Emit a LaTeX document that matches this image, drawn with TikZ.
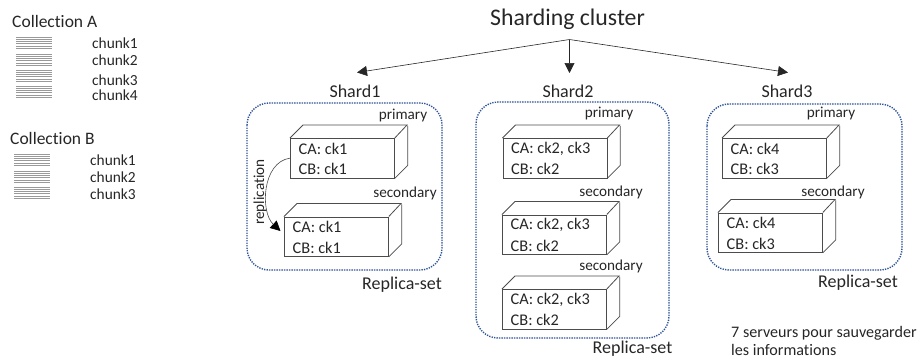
\documentclass[tikz,border=0pt]{standalone}
\usepackage{fontspec}
\setmainfont[Ligatures=NoCommon]{Carlito}
\usetikzlibrary{arrows.meta,calc}
\definecolor{dotblue}{HTML}{2F5597}
\definecolor{txt}{HTML}{262626}
\tikzset{
  x=1pt,y=-1pt,
  label text/.style={text=txt,inner sep=0pt,font=\fontsize{18}{20}\selectfont},
  coll text/.style={text=txt,inner sep=0pt,anchor=west,font=\fontsize{17.5}{20}\selectfont},
  small text/.style={text=txt,inner sep=0pt,font=\fontsize{15.2}{17}\selectfont},
  chunk text/.style={text=txt,inner sep=0pt,anchor=west,font=\fontsize{15.4}{17}\selectfont},
  front/.style={draw=black!70,line width=0.8pt,fill=white,minimum width=104pt,minimum height=39.5pt,inner sep=0pt},
  edge line/.style={draw=black!70,line width=0.8pt},
  replset/.style={draw=dotblue,line width=1.4pt,dash pattern=on 1.3pt off 1.2pt,rounded corners=22pt,inner sep=0pt},
  stripe/.style={draw=black!40,line width=0.6pt},
  link/.style={draw=black!85,line width=0.6pt,-{Stealth[length=10pt,width=10pt,inset=0pt]}},
}
\newcommand{\servbox}[6]{% name, x left, y top, line 1, line 2
  \node[front,anchor=north west] (#1) at (#2,#3) {};
  \draw[edge line] (#1.north west) -- ++(13,-13) -- ++(104,0) -- (#1.north east)
    (#1.south east) -- ++(13,-13) -- ++(0,-39.5);
  \node[small text,anchor=west] (#1a) at ($(#1.west)+(8.5,-9.3)$) {\fontsize{16.3}{18}\selectfont #4};
  \node[small text,anchor=west] (#1b) at ($(#1.west)+(8.5,11)$) {\fontsize{16.3}{18}\selectfont #5};
  \node[small text] (#1r) at #6;
}
\newcommand{\stripes}[2]{% x left, y top
  \foreach \k in {0,2.2,...,11.2} \draw[stripe] (#1,#2+\k) -- ++(36,0);
}
\begin{document}
\begin{tikzpicture}
\useasboundingbox (0,0) rectangle (919,360);
% left column
\node[coll text] (ca) at (12,21) {Collection A};
\stripes{16}{37}\stripes{16}{54}\stripes{16}{70}\stripes{16}{86}
\node[chunk text] (a1) at (92,43) {chunk1};
\node[chunk text] (a2) at (92,60) {chunk2};
\node[chunk text] (a3) at (92,80) {chunk3};
\node[chunk text] (a4) at (92,95) {chunk4};
\node[coll text] (cb) at (10,138) {Collection B};
\stripes{14}{154}\stripes{14}{171}\stripes{14}{187}
\node[chunk text] (b1) at (90,160) {chunk1};
\node[chunk text] (b2) at (90,177) {chunk2};
\node[chunk text] (b3) at (90,194) {chunk3};
% title and shards
\node[text=txt,inner sep=0pt,font=\fontsize{23.8}{26}\selectfont] (title) at (567.5,19) {Sharding cluster};
\coordinate (hub) at (569.5,39.5);
\node[label text] (s1) at (355,91) {Shard1};
\node[label text] (s2) at (568,91) {Shard2};
\node[label text] (s3) at (787,91) {Shard3};
\coordinate (s1in) at (357,72.5);
\coordinate (s2in) at (569.5,73);
\coordinate (s3in) at (788,72.5);
\draw[link] (hub) -- (s1in);
\draw[link] (hub) -- (s2in);
\draw[link] (hub) -- (s3in);
% replica sets
\draw[replset] (247,103) rectangle (442,270);
\draw[replset] (476,102) rectangle (669,338);
\draw[replset] (707,104) rectangle (902,270);
\node[label text] (r1) at (402,284.5) {Replica-set};
\node[label text] (r2) at (632.5,349) {Replica-set};
\node[label text] (r3) at (858,283) {Replica-set};
% servers
\servbox{p1}{290}{138}{CA: ck1}{CB: ck1}{(403,115) {primary}}
\servbox{q1}{284}{216.5}{CA: ck1}{CB: ck1}{(405,193.5) {secondary}}
\servbox{p2}{502.5}{138}{CA: ck2, ck3}{CB: ck2}{(609,113.5) {primary}}
\servbox{q2}{502}{214.5}{CA: ck2, ck3}{CB: ck2}{(611,192) {secondary}}
\servbox{t2}{502}{289}{CA: ck2, ck3}{CB: ck2}{(611,266) {secondary}}
\servbox{p3}{722}{138}{CA: ck4}{CB: ck3}{(831,113.5) {primary}}
\servbox{q3}{718}{212.5}{CA: ck4}{CB: ck3}{(833,192) {secondary}}
% replication
\coordinate (repin) at (280.5,231);
\draw[draw=black!70,line width=0.6pt,-{Stealth[length=10pt,width=10pt,inset=0pt,black]}] (p1.west) .. controls (262,162) and (260,212) .. (repin);
\node[small text,rotate=90] (replab) at (260,192) {replication};
% note
\node[text=txt,inner sep=0pt,anchor=north west,align=left,font=\fontsize{16.1}{18}\selectfont] (note) at (731,326.5) {7 serveurs pour sauvegarder\\les informations};
\end{tikzpicture}
\end{document}
